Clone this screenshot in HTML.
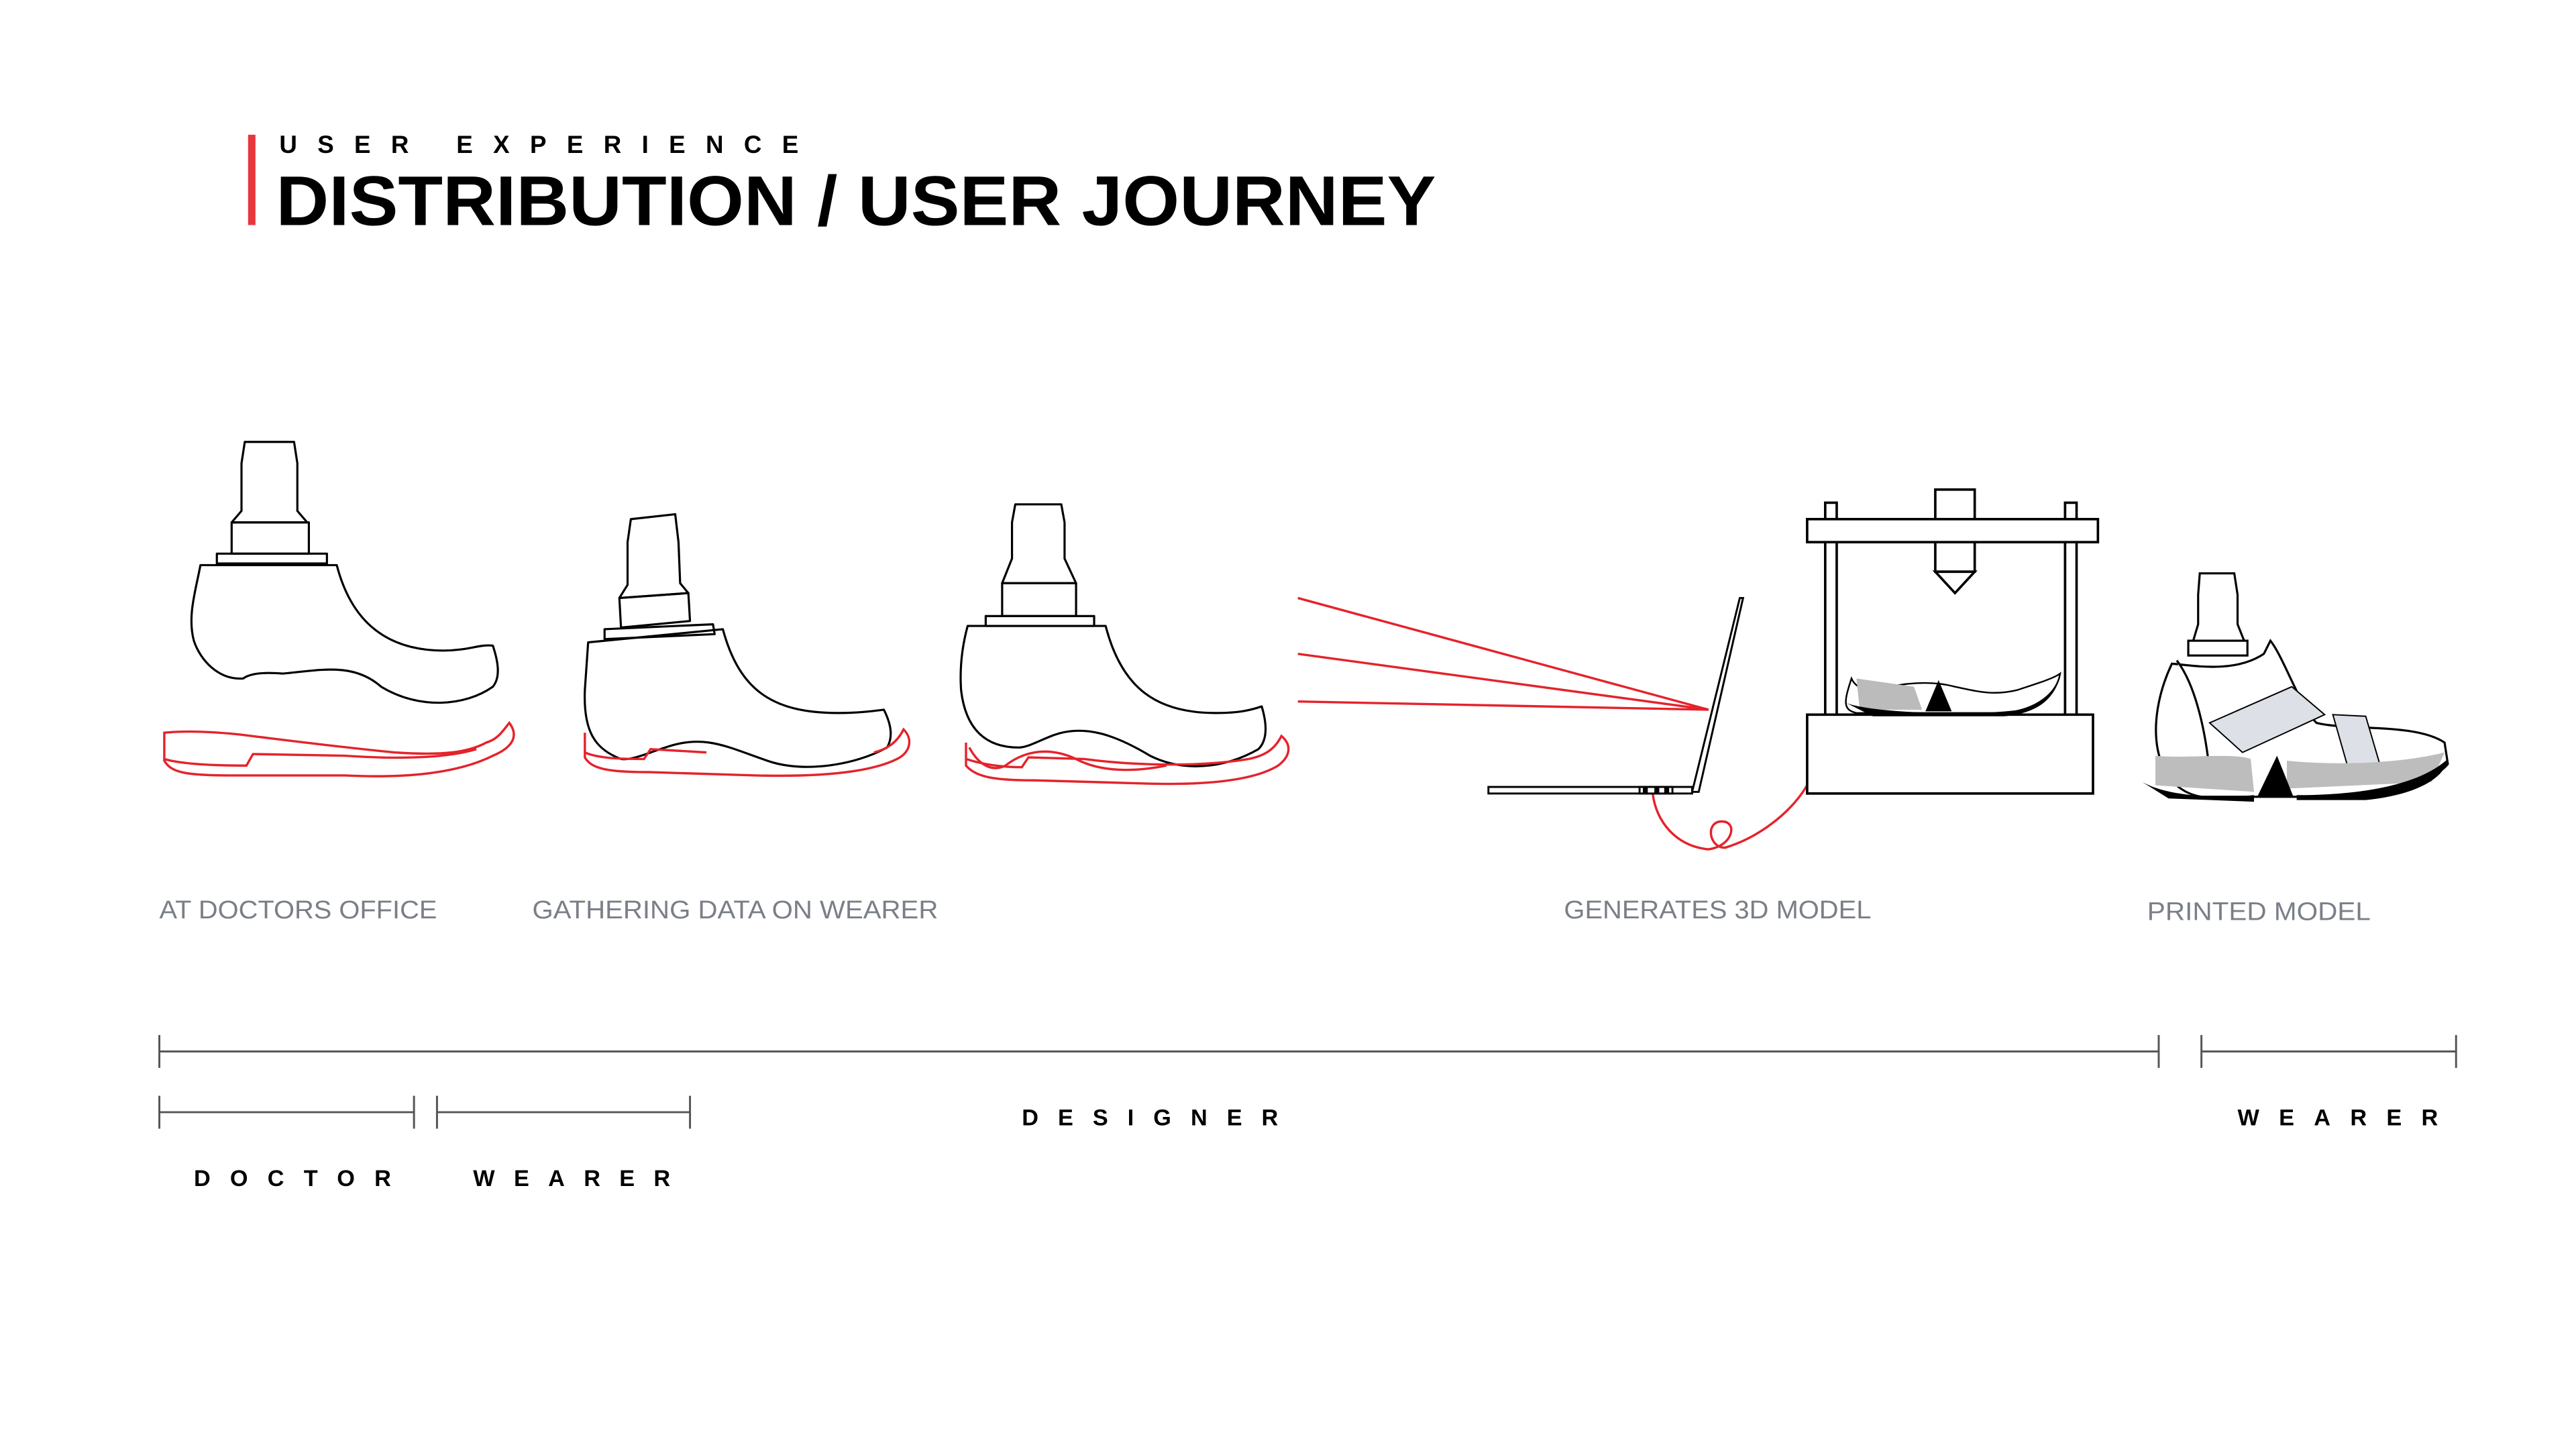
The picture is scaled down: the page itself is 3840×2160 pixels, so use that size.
<!DOCTYPE html>
<html><head><meta charset="utf-8"><style>
html,body{margin:0;padding:0;background:#fff;}
svg{display:block;}
</style></head><body>
<svg width="3840" height="2160" viewBox="0 0 1568 882" xmlns="http://www.w3.org/2000/svg" font-family="Liberation Sans, Arial, sans-serif">
<rect width="1568" height="882" fill="#fff"/>
<!-- Title -->
<rect x="151" y="82" width="4.5" height="55" fill="#e8383d"/>
<text x="170" y="93" font-size="15" font-weight="bold" textLength="316" lengthAdjust="spacing">USER EXPERIENCE</text>
<text x="168" y="137" font-size="43" font-weight="bold" textLength="706" lengthAdjust="spacingAndGlyphs">DISTRIBUTION / USER JOURNEY</text>

<g fill="none" stroke="#000" stroke-width="1.3" stroke-linejoin="round">
<!-- Foot 1 -->
<path d="M149,269 L179,269 L181,282 L181,311 L187,318 L141,318 L147,311 L147,282 Z"/>
<rect x="141" y="318" width="47" height="19"/>
<rect x="132" y="337" width="67" height="6"/>
<path d="M122,344 L205,344 C213,375 232,396 270,396 C285,396 292,392 300,393 C303,402 305,412 300,418 C283,430 255,432 232,418 C215,403 195,408 172,410 C160,409 152,410 148,413 C133,414 122,402 118,390 C114,375 119,360 122,344 Z"/>
<!-- Foot 2 -->
<path d="M384,316 L411,313 L413,330 L414,355 L419,361 L377,364 L382,356 L382,330 Z"/>
<path d="M377,364 L419,361 L420,378 L378,382 Z"/>
<path d="M368,383 L434,380 L435,386 L368,389 Z"/>
<path d="M358,391 L440,383 C450,420 470,434 510,434 C522,434 530,433 538,432 C542,440 544,448 540,455 C520,466 490,470 470,464 C445,456 430,446 405,455 C395,458 385,463 378,462 C362,456 355,445 356,420 Z"/>
<!-- Foot 3 -->
<path d="M618,307 L646,307 L648,318 L648,340 L655,355 L610,355 L616,340 L616,318 Z"/>
<rect x="610" y="355" width="45" height="20"/>
<rect x="600" y="375" width="66" height="6"/>
<path d="M589,381 L673,381 C683,420 705,434 740,434 C755,434 762,432 768,430 C771,440 772,450 766,456 C745,468 720,470 700,460 C680,448 660,440 640,448 C630,452 625,455 620,455 C602,455 588,446 585,420 C584,405 586,392 589,381 Z"/>
</g>

<!-- Red soles -->
<g fill="none" stroke="#e4232b" stroke-width="1.4">
<path d="M100,446 L100,463 C104,470 112,472 140,472 L210,472 C250,474 280,470 300,460 C312,455 316,448 310,440 C306,445 303,450 296,452 C285,458 270,460 240,458 C200,454 170,450 145,447 C125,445 110,445 100,446 Z"/>
<path d="M100,462 C110,465 130,466 150,466 L154,459 L210,460 C240,462 270,462 290,456"/>
<path d="M356,446 L356,461 C360,468 370,470 395,470 L460,472 C500,473 530,470 546,462 C554,458 556,450 550,444 C546,452 540,456 532,458"/>
<path d="M356,458 C365,462 380,462 392,462 L396,456 L430,458"/>
<path d="M588,452 L588,466 C594,473 605,475 630,475 L700,477 C740,478 765,474 778,466 C786,460 786,453 780,448 C776,456 770,460 760,462"/>
<path d="M588,462 C600,466 612,467 622,467 L626,461 L660,462 C690,466 730,467 760,462"/>
<path d="M590,455 C596,466 604,470 612,466 C625,456 640,455 655,462 C670,470 690,470 710,466"/>
<!-- rays -->
<path d="M790,364 L1040,432 M790,398 L1040,432 M790,427 L1040,432"/>
<!-- cable -->
<path d="M1006,483 C1008,500 1020,515 1040,517 C1055,515 1058,500 1048,500 C1038,500 1040,516 1050,516 C1070,510 1090,495 1100,478"/>
</g>

<!-- Laptop -->
<g stroke="#000" fill="#fff" stroke-width="1.2">
<rect x="906" y="479" width="124" height="4"/>
<path d="M1030,482 L1059,364 L1061,364 L1034,482 Z"/>
<rect x="998" y="479" width="20" height="4" fill="#fff"/>
</g>
<rect x="1000" y="479.5" width="3" height="3" fill="#000"/>
<rect x="1007" y="479.5" width="3" height="3" fill="#000"/>
<rect x="1013" y="479.5" width="3" height="3" fill="#000"/>

<!-- Printer -->
<g stroke="#000" fill="#fff" stroke-width="1.5">
<rect x="1111" y="306" width="7" height="130"/>
<rect x="1257" y="306" width="7" height="130"/>
<rect x="1178" y="298" width="24" height="50"/>
<rect x="1100" y="316" width="177" height="14"/>
<path d="M1178,348 L1202,348 L1190,361 Z"/>
<rect x="1100" y="435" width="174" height="48"/>
<path d="M1127,413 C1130,420 1140,422 1150,418 C1160,416 1175,414 1190,418 C1200,420 1212,424 1228,420 C1240,416 1250,413 1254,410 C1252,422 1240,432 1220,434 L1130,434 C1122,432 1122,428 1127,413 Z" stroke-width="1"/>
</g>
<path d="M1130,413 L1165,418 L1170,432 L1132,432 Z" fill="#bbb"/>
<path d="M1172,433 L1180,414 L1188,433 Z" fill="#000"/>
<path d="M1124,428 C1140,434 1200,436 1230,432 C1245,428 1252,420 1254,412 C1250,426 1240,434 1220,436 L1140,436 Z" fill="#000"/>

<!-- Printed model -->
<g stroke="#000" fill="#fff" stroke-width="1.3">
<path d="M1339,349 L1360,349 L1362,362 L1362,380 L1366,390 L1335,390 L1338,380 L1338,362 Z"/>
<rect x="1332" y="390" width="36" height="9"/>
<path d="M1378,398 L1382,390 C1390,400 1400,430 1410,440 C1430,445 1470,440 1488,452 L1490,465 C1480,478 1440,484 1420,485 L1340,485 C1310,480 1305,440 1322,404 C1335,405 1360,410 1378,398 Z"/>
<path d="M1325,402 C1335,415 1342,440 1345,470" />
</g>
<path d="M1345,440 L1395,418 L1415,435 L1365,458 Z" fill="#dde0e6" stroke="#000" stroke-width="0.8"/>
<path d="M1420,435 L1440,436 L1450,470 L1430,470 Z" fill="#dde0e6" stroke="#000" stroke-width="0.8"/>
<path d="M1312,460 C1330,462 1360,458 1370,462 L1372,482 L1312,478 Z" fill="#bdbdbd"/>
<path d="M1392,463 C1420,466 1460,465 1488,458 L1480,476 L1392,480 Z" fill="#bdbdbd"/>
<path d="M1374,485 L1386,460 L1396,485 Z" fill="#000"/>
<path d="M1304,476 C1320,485 1350,486 1372,484 L1372,488 L1320,486 Z M1398,484 C1430,484 1470,480 1490,462 C1488,474 1470,484 1440,487 L1398,487 Z" fill="#000"/>

<!-- Labels -->
<g fill="#7a7f87" font-size="15.5">
<text x="97" y="559" textLength="169" lengthAdjust="spacingAndGlyphs">AT DOCTORS OFFICE</text>
<text x="324" y="559" textLength="247" lengthAdjust="spacingAndGlyphs">GATHERING DATA ON WEARER</text>
<text x="952" y="559" textLength="187" lengthAdjust="spacingAndGlyphs">GENERATES 3D MODEL</text>
<text x="1307" y="560" textLength="136" lengthAdjust="spacingAndGlyphs">PRINTED MODEL</text>
</g>

<!-- Timelines -->
<g stroke="#555" stroke-width="1.2">
<path d="M97,640 L1314,640 M97,630 L97,650 M1314,630 L1314,650"/>
<path d="M1340,640 L1495,640 M1340,630 L1340,650 M1495,630 L1495,650"/>
<path d="M97,677 L252,677 M97,667 L97,687 M252,667 L252,687"/>
<path d="M266,677 L420,677 M266,667 L266,687 M420,667 L420,687"/>
</g>
<g font-size="14" font-weight="bold" fill="#000">
<text x="622" y="685" textLength="156" lengthAdjust="spacing">DESIGNER</text>
<text x="1362" y="685" textLength="122" lengthAdjust="spacing">WEARER</text>
<text x="118" y="722" textLength="120" lengthAdjust="spacing">DOCTOR</text>
<text x="288" y="722" textLength="120" lengthAdjust="spacing">WEARER</text>
</g>
</svg>
</body></html>
